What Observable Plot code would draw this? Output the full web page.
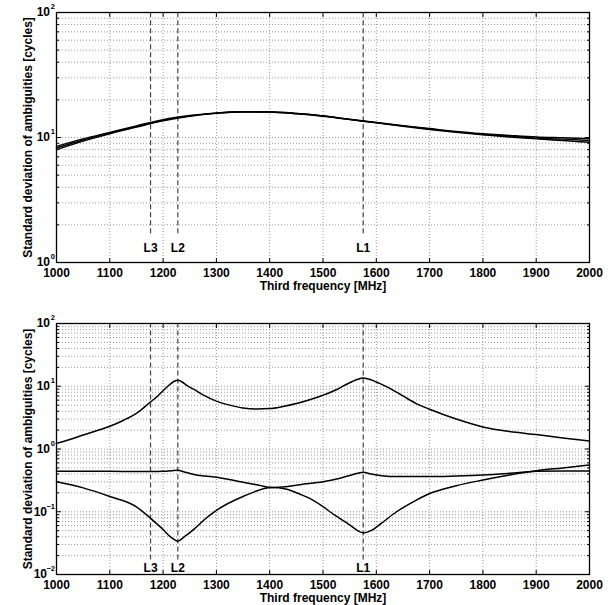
<!DOCTYPE html>
<html><head><meta charset="utf-8">
<script src="https://cdn.jsdelivr.net/npm/d3@7"></script>
<script src="https://cdn.jsdelivr.net/npm/@observablehq/plot@0.6"></script>
<style>body{margin:0;background:#fff} svg{display:block}</style>
</head><body><div id="chart"></div>
<script>
// ---- data ----
const xTicks = [1000,1100,1200,1300,1400,1500,1600,1700,1800,1900,2000];
const signalNames = ["L3","L2","L1"];
const signalFreqs = [1176.45,1227.60,1575.42];
const xLabel = "Third frequency [MHz]";
const yLabel = "Standard deviation of ambiguities [cycles]";

const topMajors = [1,10,100];
const botMajors = [0.01,0.1,1,10,100];

// top panel: three nearly coincident curves
const topFreq = [1000,1050,1100,1150,1200,1250,1300,1350,1400,1450,1500,1550,1600,1650,1700,1750,1800,1850,1900,1950,2000];
const topS1 = [8.5,9.75,11.0,12.4,13.9,15.0,15.75,16.1,16.05,15.6,14.9,14.0,13.2,12.45,11.8,11.2,10.75,10.4,10.1,9.95,9.8];
const topS2 = [8.0,9.35,10.7,12.1,13.6,14.8,15.6,16.0,15.95,15.5,14.8,13.9,13.1,12.3,11.6,11.0,10.5,10.1,9.75,9.45,9.15];
const topS3 = [8.25,9.55,10.85,12.25,13.75,14.9,15.68,16.05,16.0,15.55,14.85,13.95,13.15,12.4,11.7,11.1,10.6,10.25,9.9,9.7,9.45];

// bottom panel curves
const botAFreq = [1000,1025,1050,1075,1100,1125,1150,1175,1190,1200,1210,1220,1227.6,1235,1245,1257,1275,1300,1325,1350,1375,1400,1425,1450,1475,1500,1525,1540,1555,1565,1575.42,1585,1595,1605,1620,1650,1675,1700,1750,1800,1850,1900,1950,2000];
const botAVal  = [1.23,1.42,1.67,1.95,2.3,2.85,3.7,5.5,7.0,8.5,10.2,11.9,12.5,11.8,10.2,9.0,7.3,5.8,5.0,4.5,4.35,4.4,4.75,5.3,6.1,7.2,8.8,10.3,11.9,12.9,13.5,13.0,12.2,11.2,9.8,7.0,5.3,4.3,3.0,2.25,1.9,1.7,1.5,1.34];
const botBFreq = [1000,1050,1100,1150,1176,1200,1215,1227.6,1240,1260,1300,1350,1380,1404,1430,1457,1500,1530,1555,1575.42,1590,1610,1640,1700,1750,1800,1850,1900,1950,2000];
const botBVal  = [0.44,0.44,0.44,0.437,0.437,0.44,0.45,0.46,0.43,0.39,0.355,0.295,0.265,0.243,0.25,0.27,0.30,0.34,0.39,0.427,0.40,0.375,0.363,0.363,0.372,0.386,0.41,0.44,0.447,0.447];
const botCFreq = [1000,1050,1100,1150,1176,1200,1215,1227.6,1240,1257,1280,1300,1350,1404,1430,1457,1480,1500,1513,1530,1550,1565,1575.42,1590,1610,1638,1670,1700,1750,1800,1850,1900,1950,2000];
const botCVal  = [0.30,0.24,0.175,0.12,0.079,0.052,0.039,0.034,0.04,0.052,0.078,0.105,0.175,0.243,0.23,0.19,0.155,0.121,0.10,0.08,0.062,0.05,0.046,0.05,0.066,0.10,0.145,0.195,0.26,0.32,0.385,0.45,0.50,0.557];

// ---- helpers ----
const zip = (fs, vs) => fs.map((f, i) => ({f, v: vs[i]}));
const signals = signalNames.map((n, i) => ({name: n, f: signalFreqs[i]}));
function minorsFor(majors) {
  const out = [];
  for (let i = 0; i < majors.length - 1; i++)
    for (let m = 2; m <= 9; m++) out.push(+(majors[i] * m).toPrecision(3));
  return out;
}
const FONT = "'Liberation Sans', Arial, Helvetica, sans-serif";

function panel({height, mt, mb, majors, series, ruleLow, labelY, lineWidth}) {
  const minors = minorsFor(majors);
  const allY = majors.concat(minors);
  const ydom = [majors[0], majors[majors.length - 1]];
  const expo = d => { const e = Math.round(Math.log10(d)); return e < 0 ? "\u2212" + (-e) : String(e); };
  const txt = {fontFamily: FONT, fontWeight: "bold", fill: "#000"};
  return Plot.plot({
    width: 613, height,
    marginTop: mt, marginBottom: mb, marginLeft: 56, marginRight: 24,
    x: {domain: [1000, 2000], label: null},
    y: {type: "log", domain: ydom, label: null},
    style: {fontFamily: FONT, background: "#fff", overflow: "visible"},
    marks: [
      Plot.gridX(xTicks, {stroke: "#9a9a9a", strokeOpacity: 1, strokeDasharray: "1,2"}),
      Plot.gridY(allY, {stroke: "#9a9a9a", strokeOpacity: 1, strokeDasharray: "1,2"}),
      Plot.ruleX(signals, {x: "f", y1: ruleLow, y2: ydom[1], stroke: "#444", strokeWidth: 1.2, strokeDasharray: "5,3"}),
      Plot.text(signals, {x: "f", y: labelY, text: "name", fontSize: 12, lineAnchor: "middle", ...txt}),
      ...series.map(s => Plot.line(s, {x: "f", y: "v", stroke: "#000", strokeWidth: lineWidth, curve: "monotone-x"})),
      Plot.frame({stroke: "#000", strokeWidth: 1.3}),
      Plot.axisX({anchor: "bottom", ticks: xTicks, tickSize: 4, dy: -4, tickFormat: () => "", label: null}),
      Plot.axisX({anchor: "top", ticks: xTicks, tickSize: 4, dy: 4, tickFormat: () => "", label: null}),
      Plot.axisY({anchor: "left", ticks: majors, tickSize: 5, dx: 5, tickFormat: () => "", label: null}),
      Plot.axisY({anchor: "right", ticks: majors, tickSize: 5, dx: -5, tickFormat: () => "", label: null}),
      Plot.axisY({anchor: "left", ticks: minors, tickSize: 3, dx: 3, tickFormat: () => "", label: null}),
      Plot.axisY({anchor: "right", ticks: minors, tickSize: 3, dx: -3, tickFormat: () => "", label: null}),
      Plot.axisX({anchor: "bottom", ticks: xTicks, tickSize: 0, tickPadding: 6, tickFormat: d => String(d), label: null, fontSize: 12, fontWeight: "bold", fill: "#000"}),
      // y tick labels 10^k
      Plot.text(majors, {filter: d => d >= 1, y: d => d, frameAnchor: "left", text: () => "10", textAnchor: "end", lineAnchor: "middle", dx: -6.5, fontSize: 12, ...txt}),
      Plot.text(majors, {filter: d => d < 1, y: d => d, frameAnchor: "left", text: () => "10", textAnchor: "end", lineAnchor: "middle", dx: -9.5, fontSize: 12, ...txt}),
      Plot.text(majors, {y: d => d, frameAnchor: "left", text: expo, textAnchor: "end", lineAnchor: "middle", dx: -1.5, dy: -5.5, fontSize: 7.5, ...txt}),
      // axis titles
      Plot.text([xLabel], {frameAnchor: "bottom", text: d => d, dy: 24, lineAnchor: "middle", fontSize: 12, ...txt}),
      Plot.text([yLabel], {frameAnchor: "left", text: d => d, rotate: -90, dx: -28, lineAnchor: "middle", textAnchor: "middle", fontSize: 12, ...txt})
    ]
  });
}

const root = document.getElementById("chart");
root.appendChild(panel({
  height: 302, mt: 12, mb: 40, majors: topMajors,
  series: [zip(topFreq, topS1), zip(topFreq, topS2), zip(topFreq, topS3)],
  ruleLow: 1.7, labelY: 1.3, lineWidth: 1.4
}));
root.appendChild(panel({
  height: 303, mt: 21, mb: 31, majors: botMajors,
  series: [zip(botAFreq, botAVal), zip(botBFreq, botBVal), zip(botCFreq, botCVal)],
  ruleLow: 0.017, labelY: 0.0128, lineWidth: 1.5
}));
</script>
</body></html>
